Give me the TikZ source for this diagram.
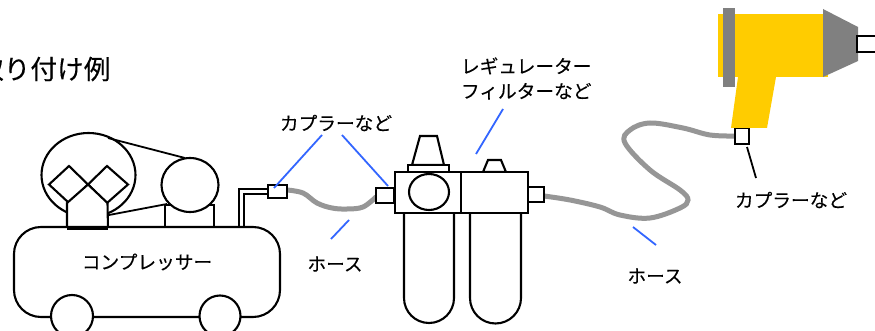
\documentclass[tikz,border=0pt]{standalone}
\usepackage{fontspec}
\setmainfont{Noto Sans CJK JP}[FakeBold=0.15]
\definecolor{gunyellow}{HTML}{FFCC00}
\definecolor{gungray}{HTML}{808080}
\definecolor{hosegray}{HTML}{969696}
\definecolor{leaderblue}{HTML}{3366FF}
\tikzset{
  part/.style={draw=black,fill=white,line width=2.1pt,line join=miter},
  coupler/.style={part,rectangle,inner sep=0pt,outer sep=0pt},
  hose/.style={draw=hosegray,line width=5pt,line cap=round},
  leader/.style={draw=leaderblue,line width=1.8pt},
  blackleader/.style={draw=black,line width=1.8pt},
  label/.style={inner sep=0pt,outer sep=0pt,text=black,font=\fontsize{18.7}{25}\selectfont},
  gunyel/.style={fill=gunyellow,draw=none},
  gungr/.style={fill=gungray,draw=none}
}
\begin{document}
\begin{tikzpicture}[x=1pt,y=-1pt]
\useasboundingbox (0,0) rectangle (875,331);
\fill[white] (0,0) rectangle (875,331);
\begin{scope}
\clip (0,0) rectangle (875,331);
% title
\node[label,anchor=west,font=\fontsize{26.7}{30}\selectfont] (title) at (-23,69) {取り付け例};
% compressor
\draw[part] (88.5,175) ellipse [x radius=47, y radius=42];
\coordinate (beltAa) at (108,138);
\coordinate (beltAb) at (185,158);
\coordinate (beltBa) at (109,215);
\coordinate (beltBb) at (167,204);
\draw[blackleader] (beltAa) -- (beltAb);
\draw[blackleader] (beltBa) -- (beltBb);
\draw[part] (165,227) rectangle (214,205);
\draw[part] (190,185) ellipse [x radius=28.5, y radius=27];
\draw[part] (49,184.5) -- (69,166) -- (88,184.5) -- (69,203) -- cycle;
\draw[part] (88,184.5) -- (107,166) -- (128,184.5) -- (107,203) -- cycle;
\draw[part] (67,228.5) -- (67,203) -- (88,184.5) -- (107.5,203) -- (108,228.5) -- cycle;
\draw[part] (14,254) arc[start angle=180,end angle=270,radius=27] -- (253,227) arc[start angle=270,end angle=360,radius=27] -- (280,290) arc[start angle=0,end angle=90,radius=27] -- (41,317) arc[start angle=90,end angle=180,radius=27] -- cycle;
\draw[part] (67,228.5) -- (108,228.5);
\draw[part] (72,316) circle [radius=21];
\draw[part] (220,316) circle [radius=20.5];
\node[label] (complabel) at (147,262) {コンプレッサー};
% pipe
\draw[part,fill=none] (239,227) -- (239,189) -- (268,189);
\draw[part,fill=none] (244,227) -- (244,194) -- (268,194);
% hoses
\draw[hose] plot[smooth,tension=0.6] coordinates {(287,190) (303,193) (317,203) (332,208) (347,209) (363,207) (376,197)};
\draw[hose] plot[smooth,tension=0.6] coordinates {(544,196) (570,200) (600,207) (620,215) (650,218) (680,208) (688,200) (680,190) (650,170) (625,143) (630,130) (650,123) (683,128) (710,135) (736,136)};
% couplers
\node[coupler,minimum width=19pt,minimum height=13pt] (c1) at (277.5,191.5) {};
\node[coupler,minimum width=18pt,minimum height=15pt] (c2) at (385,195.5) {};
\node[coupler,minimum width=16pt,minimum height=15pt] (c3) at (536,194.5) {};
\node[coupler,minimum width=14pt,minimum height=16pt] (c4) at (742,136) {};
% filter / regulator
\draw[part] (404,213) -- (404,298) arc[start angle=180,end angle=0,radius=25] -- (454,213);
\draw[part] (470,213) -- (470,298) arc[start angle=180,end angle=0,radius=25.5] -- (521,213);
\draw[part] (412,165) -- (420,136) -- (437,136) -- (444,165) -- cycle;
\draw[part] (408,165) rectangle (449,172);
\draw[part] (483,172) -- (488,160) -- (501,160) -- (506,172) -- cycle;
\draw[part] (395,172) rectangle (461,213);
\draw[part] (461,172) rectangle (528,213);
\draw[part] (429,192) ellipse [x radius=20, y radius=18];
% gun
\fill[gunyel] (718,14) rectangle (828,77);
\fill[gunyel] (738,77) -- (731,128) -- (767,128) -- (776,77) -- cycle;
\fill[gungr] (723,8) rectangle (735,87);
\fill[gungr] (823,9) -- (858,27) -- (858,61) -- (823,77) -- cycle;
\draw[part] (880,36) -- (857,36) -- (857,52) -- (880,52);
% labels
\node[label] (l1) at (336,123) {カプラーなど};
\node[label] (l2) at (335,264) {ホース};
\node[label,anchor=west,align=left] (l3) at (461,78.5) {レギュレーター\\フィルターなど};
\node[label] (l4) at (655,276) {ホース};
\node[label] (l5) at (791,200) {カプラーなど};
% leaders
\coordinate (a1) at (322,135);
\coordinate (b1) at (274,188);
\coordinate (a2) at (342,135);
\coordinate (b2) at (388,186);
\coordinate (a3) at (349,220);
\coordinate (b3) at (331,239);
\coordinate (a4) at (503,109);
\coordinate (b4) at (476,154);
\coordinate (a5) at (633,227);
\coordinate (b5) at (656,245);
\coordinate (a6) at (747,147);
\coordinate (b6) at (756,178);
\draw[leader] (a1) -- (b1);
\draw[leader] (a2) -- (b2);
\draw[leader] (a3) -- (b3);
\draw[leader] (a4) -- (b4);
\draw[leader] (a5) -- (b5);
\draw[blackleader] (a6) -- (b6);
\end{scope}
\end{tikzpicture}
\end{document}
